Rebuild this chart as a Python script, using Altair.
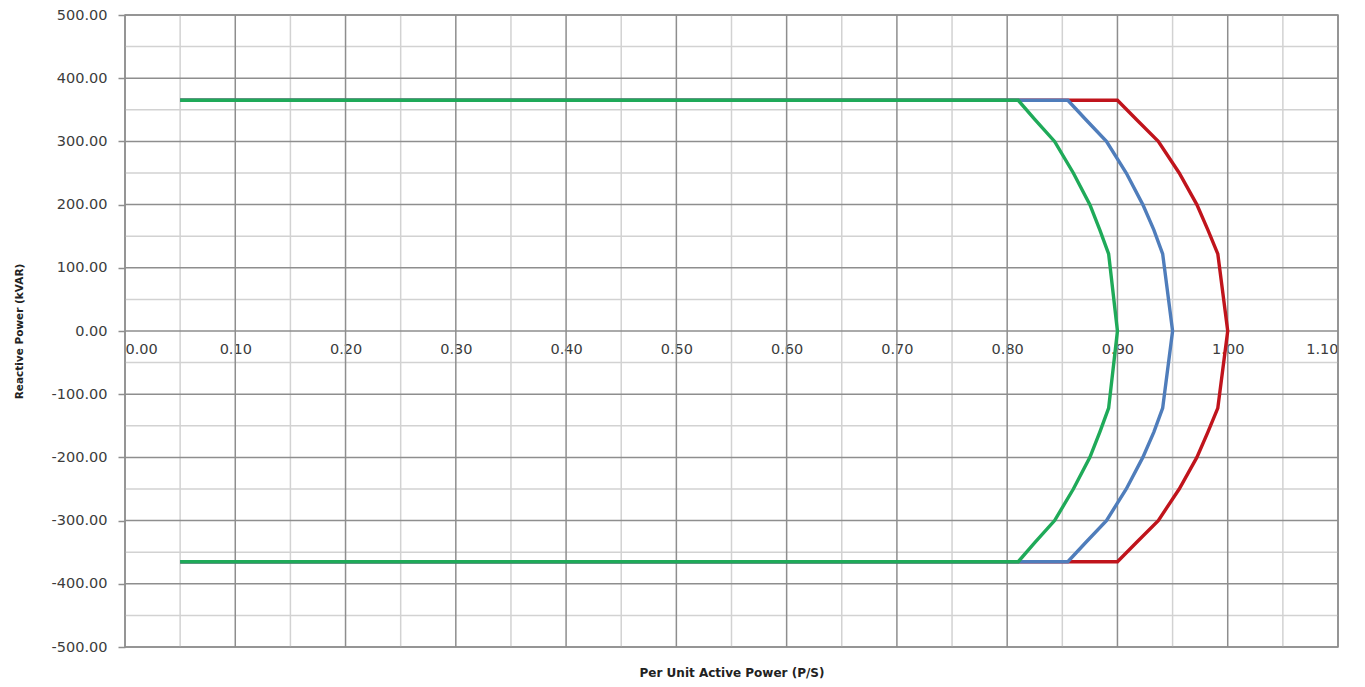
import altair as alt
import pandas as pd

# Capability curves: per-unit active power vs reactive power (kVAR)
# Each path: flat upper limit, arc down through Q = 0, flat lower limit.
q_path = [365, 365, 335, 300, 250, 200, 160, 122, 0, -122, -160, -200, -250, -300, -335, -365, -365]

p_s100 = [0.05, 0.900, 0.917, 0.937, 0.956, 0.972, 0.982, 0.991, 1.000,
          0.991, 0.982, 0.972, 0.956, 0.937, 0.917, 0.900, 0.05]
p_s095 = [0.05, 0.855, 0.871, 0.890, 0.908, 0.923, 0.933, 0.941, 0.950,
          0.941, 0.933, 0.923, 0.908, 0.890, 0.871, 0.855, 0.05]
p_s090 = [0.05, 0.810, 0.825, 0.843, 0.860, 0.875, 0.884, 0.892, 0.900,
          0.892, 0.884, 0.875, 0.860, 0.843, 0.825, 0.810, 0.05]

series_names = ["S = 1.00", "S = 0.95", "S = 0.90"]
series_colors = ["#c0141c", "#4f7dbb", "#1faa59"]

x_major = [round(0.1 * i, 2) for i in range(12)]
x_minor = [round(0.05 + 0.1 * i, 2) for i in range(11)]
y_major = list(range(-500, 501, 100))
y_minor = list(range(-450, 451, 100))

rows = []
for rank, (name, ps) in enumerate(zip(series_names, [p_s100, p_s095, p_s090])):
    for i, (p, q) in enumerate(zip(ps, q_path)):
        rows.append({"series": name, "rank": rank, "step": i, "p": p, "q": q})
curves = pd.DataFrame(rows)

W, H = 1213, 632
FONT = "DejaVu Sans"
GRID = "#8e8e8e"

x_scale = alt.Scale(domain=[0, 1.1], nice=False, zero=False)
y_scale = alt.Scale(domain=[-500, 500], nice=False, zero=False)

neg_fix = "replace(format(datum.value, '.2f'), '\u2212', '-')"

x_axis = alt.Axis(values=x_major, labelExpr=neg_fix, grid=False, ticks=False, domain=False,
                  offset=-H / 2, labelPadding=11, labelFontSize=14.5, labelColor="#3c3c3c",
                  labelFont=FONT, title="Per Unit Active Power (P/S)", titleFont=FONT,
                  titleFontSize=12, titleFontWeight="bold", titleColor="#222222",
                  titleY=H / 2 + 25, titleBaseline="middle")
y_axis = alt.Axis(values=y_major, labelExpr=neg_fix, grid=False, domain=False, tickSize=7,
                  tickColor=GRID, tickWidth=1.5, labelPadding=11, labelFontSize=14.5,
                  labelColor="#3c3c3c", labelFont=FONT, title="Reactive Power (kVAR)",
                  titleFont=FONT, titleFontSize=10.5, titleFontWeight="bold",
                  titleColor="#222222", titleX=-106, titleY=H / 2, titleAngle=270,
                  titleBaseline="middle", titleAlign="center")

# Minor and major grid lines
vminor = alt.Chart(pd.DataFrame({"p": x_minor})).mark_rule(color="#d2d2d2", strokeWidth=1.5).encode(
    x=alt.X("p:Q", scale=x_scale, axis=x_axis))
hminor = alt.Chart(pd.DataFrame({"q": y_minor})).mark_rule(color="#d2d2d2", strokeWidth=1.5).encode(
    y=alt.Y("q:Q", scale=y_scale, axis=y_axis))
vmajor = alt.Chart(pd.DataFrame({"p": x_major})).mark_rule(color=GRID, strokeWidth=1.5).encode(
    x=alt.X("p:Q", scale=x_scale, axis=x_axis))
hmajor = alt.Chart(pd.DataFrame({"q": y_major})).mark_rule(color=GRID, strokeWidth=1.5).encode(
    y=alt.Y("q:Q", scale=y_scale, axis=y_axis))

lines = alt.Chart(curves).mark_line(strokeWidth=3.4, strokeJoin="miter").encode(
    x=alt.X("p:Q", scale=x_scale, axis=x_axis),
    y=alt.Y("q:Q", scale=y_scale, axis=y_axis),
    color=alt.Color("series:N", scale=alt.Scale(domain=series_names, range=series_colors), legend=None),
    detail="series:N",
    order=alt.Order("step:Q"),
)

chart = alt.layer(vminor, hminor, vmajor, hmajor, lines).properties(
    width=W, height=H,
    autosize=alt.AutoSizeParams(type="none"),
    padding={"left": 125, "top": 15, "right": 27, "bottom": 40},
    background="white",
).configure_view(stroke=GRID, strokeWidth=1.5)

chart.save("out.html", embed_options={"renderer": "svg", "actions": False})
